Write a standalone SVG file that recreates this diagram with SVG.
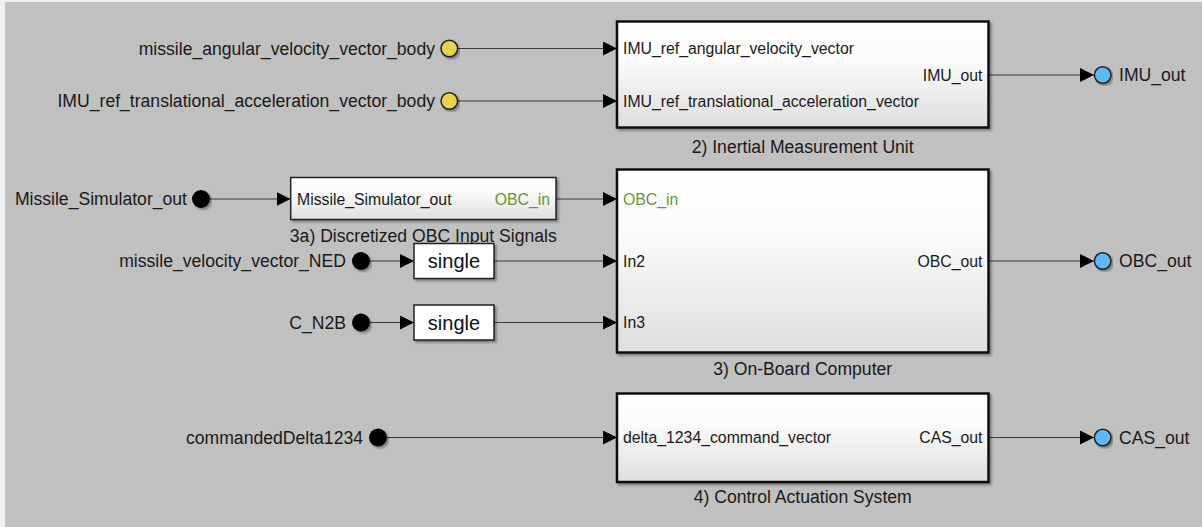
<svg xmlns="http://www.w3.org/2000/svg" width="1202" height="527" viewBox="0 0 1202 527">
  <style>
    .lbl { font-family: "Liberation Sans", Arial, Helvetica, sans-serif; font-size: 17.6px; fill: #1a1a1a; }
    .port { font-family: "Liberation Sans", Arial, Helvetica, sans-serif; font-size: 15.8px; fill: #1a1a1a; }
    .bus { fill: #5f9a35; }
    .big { font-family: "Liberation Sans", Arial, Helvetica, sans-serif; font-size: 20px; fill: #111; }
    .wire { stroke: #3a3a3a; stroke-width: 1.2; fill: none; }
    .sub { stroke: #111; stroke-width: 2.5; fill: url(#blockFill); }
    .small { stroke: #222; stroke-width: 1.5; }
    .inport { stroke: #222; stroke-width: 1.5; }
  </style>
  <defs>
    <linearGradient id="blockFill" x1="0" y1="0" x2="0" y2="1">
      <stop offset="0" stop-color="#ffffff"/>
      <stop offset="0.35" stop-color="#fbfbfb"/>
      <stop offset="1" stop-color="#dedede"/>
    </linearGradient>
    <filter id="shadow" x="-5%" y="-5%" width="115%" height="120%">
      <feDropShadow dx="2" dy="2" stdDeviation="1" flood-color="#000" flood-opacity="0.35"/>
    </filter>
    <marker id="arrow" viewBox="0 0 14 14" refX="14" refY="7" markerWidth="14" markerHeight="14" markerUnits="userSpaceOnUse" orient="auto">
      <path d="M0,0 L14,7 L0,14 Z" fill="#000"/>
    </marker>
  </defs>

  <!-- canvas -->
  <rect x="0" y="0" width="1202" height="527" fill="#efefef"/>
  <rect x="5" y="2" width="1197" height="525" fill="#c0c0c0"/>

  <!-- signal lines -->
  <g id="connectors">
    <line class="wire" x1="457.5" y1="48.5" x2="617" y2="48.5" marker-end="url(#arrow)"/>
    <line class="wire" x1="457.5" y1="101" x2="617" y2="101" marker-end="url(#arrow)"/>
    <line class="wire" x1="988.5" y1="75" x2="1094" y2="75" marker-end="url(#arrow)"/>
    <line class="wire" x1="210" y1="199" x2="290.5" y2="199" marker-end="url(#arrow)"/>
    <line class="wire" x1="556" y1="199" x2="617" y2="199" marker-end="url(#arrow)"/>
    <line class="wire" x1="370" y1="261" x2="414" y2="261" marker-end="url(#arrow)"/>
    <line class="wire" x1="494" y1="261" x2="617" y2="261" marker-end="url(#arrow)"/>
    <line class="wire" x1="370" y1="322.5" x2="414" y2="322.5" marker-end="url(#arrow)"/>
    <line class="wire" x1="494" y1="322.5" x2="617" y2="322.5" marker-end="url(#arrow)"/>
    <line class="wire" x1="988.5" y1="261" x2="1094" y2="261" marker-end="url(#arrow)"/>
    <line class="wire" x1="387" y1="437.5" x2="617" y2="437.5" marker-end="url(#arrow)"/>
    <line class="wire" x1="988.5" y1="437.5" x2="1094" y2="437.5" marker-end="url(#arrow)"/>
  </g>

  <!-- data store reads / goto sources -->
  <g id="in-angular-velocity">
    <circle cx="449.3" cy="48.5" r="8.3" fill="#e8d24f" class="inport" filter="url(#shadow)"/>
    <text class="lbl" x="435" y="54.8" text-anchor="end">missile_angular_velocity_vector_body</text>
  </g>
  <g id="in-translational-accel">
    <circle cx="449.3" cy="101" r="8.3" fill="#e8d24f" class="inport" filter="url(#shadow)"/>
    <text class="lbl" x="435" y="107.3" text-anchor="end">IMU_ref_translational_acceleration_vector_body</text>
  </g>
  <g id="in-missile-sim">
    <circle cx="201" cy="199" r="9" fill="#000" filter="url(#shadow)"/>
    <text class="lbl" x="187" y="205.3" text-anchor="end">Missile_Simulator_out</text>
  </g>
  <g id="in-velocity-ned">
    <circle cx="361" cy="261" r="9" fill="#000" filter="url(#shadow)"/>
    <text class="lbl" x="346" y="267.3" text-anchor="end">missile_velocity_vector_NED</text>
  </g>
  <g id="in-c-n2b">
    <circle cx="361" cy="322.5" r="9" fill="#000" filter="url(#shadow)"/>
    <text class="lbl" x="346" y="328.8" text-anchor="end">C_N2B</text>
  </g>
  <g id="in-commanded-delta">
    <circle cx="378" cy="437.5" r="9" fill="#000" filter="url(#shadow)"/>
    <text class="lbl" x="363" y="443.8" text-anchor="end">commandedDelta1234</text>
  </g>

  <!-- 2) Inertial Measurement Unit -->
  <g id="imu">
    <rect class="sub" x="617" y="21.5" width="371.5" height="106" filter="url(#shadow)"/>
    <text class="port" x="623" y="54">IMU_ref_angular_velocity_vector</text>
    <text class="port" x="623" y="106.5">IMU_ref_translational_acceleration_vector</text>
    <text class="port" x="982.5" y="80.5" text-anchor="end">IMU_out</text>
    <text class="lbl" x="802.7" y="152.5" text-anchor="middle">2) Inertial Measurement Unit</text>
  </g>

  <!-- 3a) Discretized OBC Input Signals -->
  <g id="obc-input">
    <rect x="290.7" y="177.5" width="265.3" height="42" fill="url(#blockFill)" class="small" filter="url(#shadow)"/>
    <text class="port" x="297" y="204.5">Missile_Simulator_out</text>
    <text class="port bus" x="550" y="204.5" text-anchor="end">OBC_in</text>
    <text class="lbl" x="423.3" y="242" text-anchor="middle">3a) Discretized OBC Input Signals</text>
  </g>

  <!-- data type conversions -->
  <g id="single-velocity">
    <rect x="414" y="243.5" width="80" height="35" fill="#fff" class="small" filter="url(#shadow)"/>
    <text class="big" x="454" y="268" text-anchor="middle">single</text>
  </g>
  <g id="single-c-n2b">
    <rect x="414" y="305" width="80" height="35" fill="#fff" class="small" filter="url(#shadow)"/>
    <text class="big" x="454" y="329.5" text-anchor="middle">single</text>
  </g>

  <!-- 3) On-Board Computer -->
  <g id="obc">
    <rect class="sub" x="617" y="169.5" width="371.5" height="183" filter="url(#shadow)"/>
    <text class="port bus" x="623" y="204.5">OBC_in</text>
    <text class="port" x="623" y="266.5">In2</text>
    <text class="port" x="623" y="328">In3</text>
    <text class="port" x="982.5" y="266.5" text-anchor="end">OBC_out</text>
    <text class="lbl" x="802.7" y="374.5" text-anchor="middle">3) On-Board Computer</text>
  </g>

  <!-- 4) Control Actuation System -->
  <g id="cas">
    <rect class="sub" x="617" y="393.5" width="371.5" height="88.5" filter="url(#shadow)"/>
    <text class="port" x="623" y="443">delta_1234_command_vector</text>
    <text class="port" x="982.5" y="443" text-anchor="end">CAS_out</text>
    <text class="lbl" x="802.7" y="503" text-anchor="middle">4) Control Actuation System</text>
  </g>

  <!-- outports -->
  <g id="out-imu">
    <circle cx="1102.7" cy="75" r="8.3" fill="#5bb9f3" class="inport" filter="url(#shadow)"/>
    <text class="lbl" x="1119" y="81.3">IMU_out</text>
  </g>
  <g id="out-obc">
    <circle cx="1102.7" cy="261" r="8.3" fill="#5bb9f3" class="inport" filter="url(#shadow)"/>
    <text class="lbl" x="1119" y="267.3">OBC_out</text>
  </g>
  <g id="out-cas">
    <circle cx="1102.7" cy="437.5" r="8.3" fill="#5bb9f3" class="inport" filter="url(#shadow)"/>
    <text class="lbl" x="1119" y="443.8">CAS_out</text>
  </g>
</svg>
